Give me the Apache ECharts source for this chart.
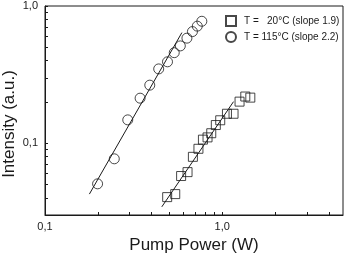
<!DOCTYPE html>
<html>
<head>
<meta charset="utf-8">
<script src="https://cdn.jsdelivr.net/npm/echarts@6/dist/echarts.min.js"></script>
<style>
  html, body { margin: 0; padding: 0; background: #fff; }
  #chart { width: 346px; height: 259px; }
</style>
</head>
<body>
<div id="chart"></div>
<script>
// T = 115°C, circles
const hotPower = [0.198, 0.246, 0.293, 0.344, 0.39, 0.438, 0.491, 0.536, 0.58, 0.632, 0.679, 0.723, 0.767];
const hotIntensity = [0.0506, 0.077, 0.148, 0.213, 0.265, 0.348, 0.392, 0.457, 0.512, 0.583, 0.651, 0.713, 0.774];

// T = 20°C, squares
const coldPower = [0.489, 0.543, 0.586, 0.637, 0.683, 0.734, 0.778, 0.826, 0.867, 0.92, 0.974, 1.063, 1.158, 1.252, 1.349, 1.44];
const coldIntensity = [0.0405, 0.0426, 0.0577, 0.0616, 0.0796, 0.0911, 0.1062, 0.1103, 0.1183, 0.1357, 0.147, 0.164, 0.164, 0.201, 0.219, 0.215];

// fitted lines (end points)
const hotFitPower = [0.178, 0.592];
const hotFitIntensity = [0.0426, 0.64];
const coldFitPower = [0.456, 1.158];
const coldFitIntensity = [0.0344, 0.201];

// ticks
const xTicks = [0.1, 0.2, 0.3, 0.4, 0.5, 0.6, 0.7, 0.8, 0.9, 1, 2, 3, 4];
const xLabels = [0.1, 1];
const yTicks = [0.03, 0.04, 0.05, 0.06, 0.07, 0.08, 0.09, 0.1, 0.2, 0.3, 0.4, 0.5, 0.6, 0.7, 0.8, 0.9, 1];
const yLabels = [0.1, 1];

const seriesNames = ["T =   20°C (slope 1.9)", "T = 115°C (slope 2.2)"];

const zip = (xs, ys) => xs.map((x, i) => [x, ys[i]]);
const fmt = (v) => (v < 0.5 ? "0,1" : "1,0");

const ink = "#1a1a1a";
const font = "Liberation Sans, Arial, sans-serif";

const chart = echarts.init(document.getElementById("chart"));

chart.setOption({
  animation: false,
  grid: {
    left: 45,
    right: 3,
    top: 6,
    bottom: 39,
    show: true,
    borderColor: ink,
    borderWidth: 1,
  },
  legend: {
    orient: "vertical",
    left: 225,
    top: 15,
    padding: 0,
    itemWidth: 10,
    itemHeight: 10,
    itemGap: 4,
    data: seriesNames,
    textStyle: { fontSize: 10, color: ink, fontFamily: font, padding: [0, 0, 0, 3] },
  },
  xAxis: {
    type: "log",
    logBase: 10,
    min: 0.1,
    max: 4.8,
    axisLine: { lineStyle: { color: ink } },
    axisTick: { inside: true, length: 3, customValues: xTicks, lineStyle: { color: ink } },
    axisLabel: { customValues: xLabels, formatter: fmt, fontSize: 11, color: ink, fontFamily: font, margin: 6 },
    splitLine: { show: false },
    name: "Pump Power (W)",
    nameLocation: "middle",
    nameGap: 22,
    nameTextStyle: { fontSize: 17, color: ink, fontFamily: font },
  },
  yAxis: {
    type: "log",
    logBase: 10,
    min: 0.03,
    max: 1,
    axisLine: { lineStyle: { color: ink } },
    axisTick: { inside: true, length: 3, customValues: yTicks, lineStyle: { color: ink } },
    axisLabel: { customValues: yLabels, formatter: fmt, fontSize: 11, color: ink, fontFamily: font, margin: 7 },
    splitLine: { show: false },
  },
  graphic: [
    {
      type: "text",
      x: 1,
      y: 124,
      rotation: Math.PI / 2,
      style: {
        text: "Intensity (a.u.)",
        font: "17px " + font,
        fill: ink,
        align: "center",
        verticalAlign: "top",
      },
    },
  ],
  series: [
    {
      name: seriesNames[0],
      type: "scatter",
      symbol: "rect",
      symbolSize: 9,
      data: zip(coldPower, coldIntensity),
      itemStyle: { color: "transparent", borderColor: ink, borderWidth: 1 },
      z: 3,
    },
    {
      name: seriesNames[1],
      type: "scatter",
      symbol: "circle",
      symbolSize: 10,
      data: zip(hotPower, hotIntensity),
      itemStyle: { color: "transparent", borderColor: ink, borderWidth: 1 },
      z: 3,
    },
    {
      type: "line",
      data: zip(coldFitPower, coldFitIntensity),
      showSymbol: false,
      lineStyle: { color: ink, width: 1 },
      z: 2,
    },
    {
      type: "line",
      data: zip(hotFitPower, hotFitIntensity),
      showSymbol: false,
      lineStyle: { color: ink, width: 1 },
      z: 2,
    },
  ],
});
</script>
</body>
</html>
